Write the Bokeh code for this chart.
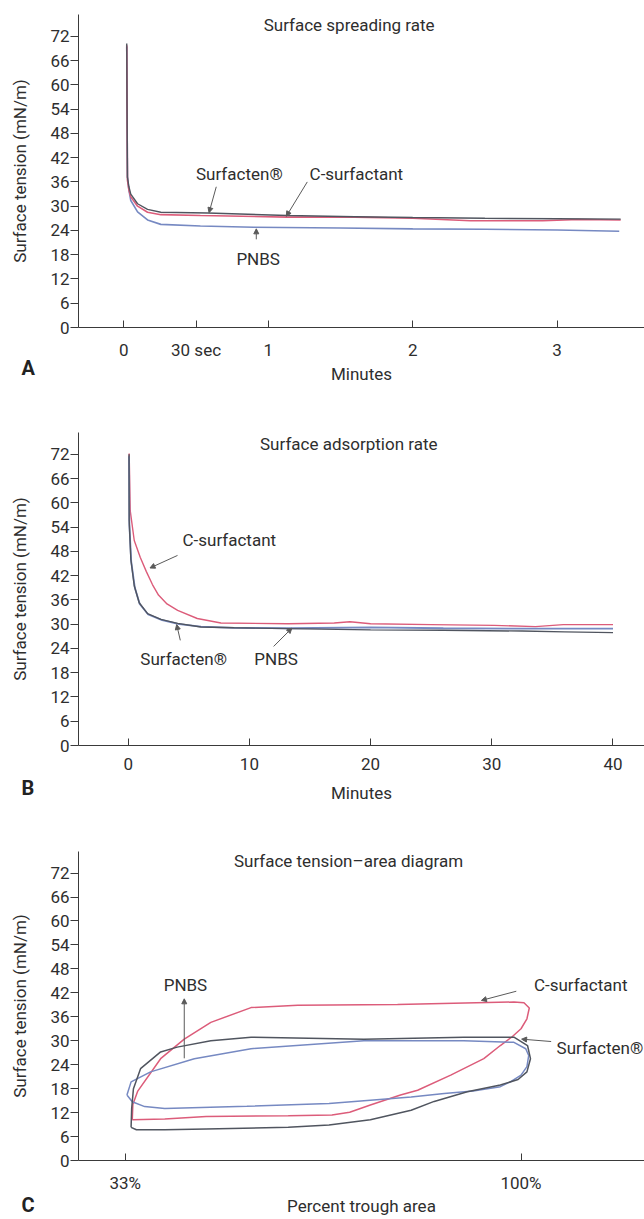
from bokeh.plotting import figure
from bokeh.models import Range1d, FixedTicker, Label, Arrow, NormalHead, Title
from bokeh.layouts import column
from bokeh.embed import file_html
from bokeh.resources import INLINE

# ---------------- data ----------------
# Panel A: surface spreading rate (minutes vs surface tension, mN/m)
A_min_csurf = [0.02, 0.022, 0.025, 0.035, 0.048, 0.095, 0.164, 0.256, 0.53, 1.13, 1.6, 2.0, 2.4, 2.9, 3.15, 3.44]
A_st_csurf = [69.8, 55.0, 36.4, 34.0, 32.3, 30.0, 28.5, 27.9, 27.7, 27.3, 27.3, 27.0, 26.4, 26.4, 26.7, 26.6]
A_min_surfacten = [0.02, 0.022, 0.025, 0.035, 0.048, 0.095, 0.164, 0.256, 0.58, 1.13, 1.6, 2.0, 2.5, 3.0, 3.44]
A_st_surfacten = [70.2, 55.0, 37.2, 34.8, 33.0, 30.6, 29.2, 28.5, 28.3, 27.7, 27.4, 27.2, 27.0, 26.9, 26.8]
A_min_pnbs = [0.02, 0.022, 0.025, 0.035, 0.048, 0.095, 0.164, 0.256, 0.53, 0.9, 1.5, 2.0, 2.5, 3.0, 3.43]
A_st_pnbs = [69.5, 55.0, 37.2, 34.0, 31.4, 28.6, 26.6, 25.5, 25.1, 24.8, 24.6, 24.4, 24.3, 24.1, 23.8]
A_ticks = [0, 0.5, 1, 2, 3]
A_tick_labels = ["0", "30 sec", "1", "2", "3"]

# Panel B: surface adsorption rate
B_min_csurf = [0.08, 0.17, 0.5, 1.0, 1.5, 2.0, 2.5, 3.2, 4.08, 5.7, 7.65, 13.2, 17.0, 18.3, 20.0, 25.0, 30.2, 33.6, 35.9, 40.0]
B_st_csurf = [72.2, 58.0, 50.7, 46.5, 43.0, 39.8, 37.2, 35.0, 33.4, 31.4, 30.3, 30.1, 30.3, 30.6, 30.1, 29.9, 29.7, 29.4, 29.9, 29.9]
B_min_surfacten = [0.07, 0.08, 0.22, 0.5, 0.91, 1.6, 2.7, 4.08, 6.0, 8.75, 13.2, 20.0, 26.0, 32.5, 36.0, 40.0]
B_st_surfacten = [72.0, 55.7, 46.0, 39.5, 35.3, 32.6, 31.2, 30.2, 29.3, 29.1, 28.9, 28.6, 28.5, 28.3, 28.1, 27.9]
B_min_pnbs = [0.07, 0.1, 0.25, 0.55, 0.95, 1.65, 2.8, 4.2, 6.0, 8.75, 13.2, 20.0, 26.0, 32.5, 36.0, 40.0]
B_st_pnbs = [71.5, 54.5, 45.5, 39.0, 35.0, 32.4, 31.0, 30.0, 29.4, 29.1, 29.0, 29.2, 29.0, 28.9, 28.9, 28.9]
B_ticks = [0, 10, 20, 30, 40]
B_tick_labels = ["0", "10", "20", "30", "40"]

# Panel C: surface tension-area diagram (percent trough area vs surface tension)
C_area_csurf = [34.2, 39.7, 46.7, 60.6, 68.0, 71.0, 74.5, 79.6, 82.5, 88.1, 93.7, 96.5, 98.5, 100.0, 101.0, 101.4,
                100.5, 98.8, 79.1, 62.2, 54.3, 47.5, 43.0, 39.0, 35.1, 34.3, 34.2]
C_st_csurf = [10.2, 10.4, 11.0, 11.2, 11.4, 12.1, 13.9, 16.4, 17.6, 21.4, 25.5, 28.8, 31.0, 33.0, 35.5, 38.2,
              39.5, 39.7, 39.1, 38.9, 38.3, 34.6, 30.4, 25.5, 17.3, 14.0, 10.2]
C_area_surfacten = [34.0, 34.9, 39.7, 46.7, 60.6, 67.5, 74.5, 81.4, 85.3, 90.9, 96.5, 99.5, 101.0, 101.6,
                    101.1, 98.8, 90.3, 73.4, 54.3, 47.5, 41.8, 39.0, 35.6, 34.4, 34.1, 34.0]
C_st_surfacten = [8.3, 7.7, 7.7, 7.9, 8.3, 8.9, 10.2, 12.6, 14.8, 17.2, 18.9, 20.3, 22.2, 25.5,
                  28.8, 30.9, 30.9, 30.4, 30.9, 30.0, 28.4, 27.2, 23.0, 18.0, 13.0, 8.3]
C_area_pnbs = [33.3, 34.0, 37.3, 44.7, 54.3, 73.4, 90.3, 98.8, 100.8, 101.3, 101.0, 100.0, 98.2, 96.5, 93.5,
               91.9, 87.0, 81.4, 74.5, 67.5, 53.6, 39.7, 36.3, 34.2, 33.3]
C_st_pnbs = [16.4, 19.7, 22.2, 25.5, 28.0, 30.0, 30.0, 29.6, 28.0, 26.3, 23.5, 21.4, 19.7, 18.5, 17.8,
             17.4, 16.8, 15.9, 15.1, 14.3, 13.6, 13.0, 13.5, 14.7, 16.4]
C_ticks = [33, 100]
C_tick_labels = ["33%", "100%"]

Y_ticks = list(range(0, 73, 6))

# ---------------- style ----------------
FONT = "Roboto"
FS = "17px"
TXT = "#2e2e2e"
AX = "#3a3a3a"
RED = "#dc5c7a"
DARK = "#50555f"
BLUE = "#7689c2"
ARROW = "#5a5a5a"
W = 644


def make_fig(height, border_top, border_bottom, xr, ticks, tick_labels, xlabel, label_standoff, xlabel_standoff):
    p = figure(width=W, height=height, output_backend="svg", toolbar_location=None,
               x_range=Range1d(*xr), y_range=Range1d(0, 77.4),
               min_border_left=78, min_border_right=0,
               min_border_top=border_top, min_border_bottom=border_bottom)
    p.outline_line_color = None
    p.grid.visible = False
    p.background_fill_color = "white"
    p.border_fill_color = "white"

    ya = p.yaxis[0]
    ya.ticker = FixedTicker(ticks=Y_ticks)
    ya.major_tick_out = 8
    ya.major_tick_in = 0
    ya.minor_tick_line_color = None
    ya.axis_line_color = AX
    ya.major_tick_line_color = AX
    ya.major_label_text_font = FONT
    ya.major_label_text_font_size = FS
    ya.major_label_text_color = TXT
    ya.major_label_standoff = 1
    ya.axis_label = "Surface tension (mN/m)"
    ya.axis_label_text_font = FONT
    ya.axis_label_text_font_size = FS
    ya.axis_label_text_font_style = "normal"
    ya.axis_label_text_color = TXT
    ya.axis_label_standoff = 17

    xa = p.xaxis[0]
    xa.ticker = FixedTicker(ticks=ticks)
    xa.major_label_overrides = {t: l for t, l in zip(ticks, tick_labels)}
    xa.major_tick_out = 0
    xa.major_tick_in = 7
    xa.minor_tick_line_color = None
    xa.axis_line_color = AX
    xa.major_tick_line_color = AX
    xa.major_label_text_font = FONT
    xa.major_label_text_font_size = FS
    xa.major_label_text_color = TXT
    xa.major_label_standoff = label_standoff
    xa.axis_label = xlabel
    xa.axis_label_text_font = FONT
    xa.axis_label_text_font_size = FS
    xa.axis_label_text_font_style = "normal"
    xa.axis_label_text_color = TXT
    xa.axis_label_standoff = xlabel_standoff
    return p


def text(p, x, y, s, align="center"):
    p.add_layout(Label(x=x, y=y, text=s, text_align=align, text_baseline="middle",
                       text_font=FONT, text_font_size=FS, text_color=TXT))


def letter(p, s, standoff):
    p.add_layout(Title(text=s, align="left", offset=-57, vertical_align="top",
                       text_font=FONT, text_font_size="20px",
                       text_font_style="bold", text_color="#222222", standoff=standoff), "below")


def arrow(p, x0, y0, x1, y1):
    p.add_layout(Arrow(end=NormalHead(size=5, fill_color=ARROW, line_color=ARROW),
                       x_start=x0, y_start=y0, x_end=x1, y_end=y1,
                       line_color=ARROW, line_width=1))


# ---------------- Panel A ----------------
pA = make_fig(424, 14, 97, (-0.314, 3.605), A_ticks, A_tick_labels, "Minutes", 12, 1)
pA.line(A_min_pnbs, A_st_pnbs, line_color=BLUE, line_width=1.6)
pA.line(A_min_csurf, A_st_csurf, line_color=RED, line_width=1.6)
pA.line(A_min_surfacten, A_st_surfacten, line_color=DARK, line_width=1.4)
text(pA, 1.56, 74.7, "Surface spreading rate")
text(pA, 0.80, 37.9, "Surfacten®")
text(pA, 1.61, 37.9, "C-surfactant")
text(pA, 0.93, 17.0, "PNBS")
arrow(pA, 0.64, 34.8, 0.59, 28.4)
arrow(pA, 1.27, 36.0, 1.125, 27.5)
arrow(pA, 0.917, 21.8, 0.917, 24.4)
letter(pA, "A", -61)

# ---------------- Panel B ----------------
pB = make_fig(418, 8, 97, (-4.1, 42.6), B_ticks, B_tick_labels, "Minutes", 12, 10)
pB.line(B_min_csurf, B_st_csurf, line_color=RED, line_width=1.4)
pB.line(B_min_pnbs, B_st_pnbs, line_color=BLUE, line_width=1.8)
pB.line(B_min_surfacten, B_st_surfacten, line_color=DARK, line_width=1.4)
text(pB, 18.2, 74.6, "Surface adsorption rate")
text(pB, 8.34, 50.7, "C-surfactant")
text(pB, 4.58, 21.4, "Surfacten®")
text(pB, 12.2, 21.4, "PNBS")
arrow(pB, 4.07, 47.0, 1.8, 43.9)
arrow(pB, 4.3, 26.0, 4.0, 29.9)
arrow(pB, 12.0, 24.5, 13.5, 29.0)
letter(pB, "B", -59)

# ---------------- Panel C ----------------
pC = make_fig(376, 9, 55, (25.1, 120.9), C_ticks, C_tick_labels, "Percent trough area", 12, 0)
pC.line(C_area_csurf, C_st_csurf, line_color=RED, line_width=1.5)
pC.line(C_area_pnbs, C_st_pnbs, line_color=BLUE, line_width=1.5)
pC.line(C_area_surfacten, C_st_surfacten, line_color=DARK, line_width=1.5)
text(pC, 70.8, 75.0, "Surface tension\u2013area diagram")
text(pC, 43.2, 44.0, "PNBS")
text(pC, 110.1, 44.0, "C-surfactant")
text(pC, 120.7, 28.1, "Surfacten®", align="right")
arrow(pC, 43.0, 25.6, 43.0, 40.5)
arrow(pC, 99.2, 42.4, 93.3, 40.1)
arrow(pC, 105.1, 29.8, 100.1, 30.4)
letter(pC, "C", -52)

layout = column(pA, pB, pC, spacing=0)
open("out.html", "w").write(file_html(layout, INLINE))
